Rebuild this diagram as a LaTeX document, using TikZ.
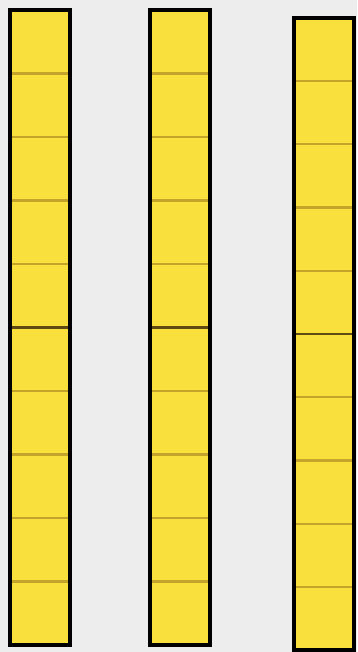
\documentclass[tikz,border=0pt]{standalone}
\usepackage{tikz}
\definecolor{paperbg}{HTML}{EDEDED}
\definecolor{rodyellow}{HTML}{FAE03C}
\definecolor{unitline}{HTML}{C4A42A}
\definecolor{fiveline}{HTML}{5E4C12}

\begin{document}
\begin{tikzpicture}[x=1pt,y=-1pt]
\fill[paperbg] (0,0) rectangle (357,652);
\useasboundingbox (0,0) rectangle (357,652);
% two rods of ten, left and middle
\foreach \xl in {10,150}{
  \fill[rodyellow] (\xl,10) rectangle ++(60,635);
  \foreach \k in {1,2,3,4,6,7,8,9}
    \draw[unitline,line width=2.2pt] (\xl,10+63.5*\k) -- ++(60,0);
  \draw[fiveline,line width=2.6pt] (\xl,10+63.5*5) -- ++(60,0);
  \draw[line width=3.2pt] (\xl,10) rectangle ++(60,635);
}
% third rod, a little lower
\fill[rodyellow] (294,18) rectangle ++(60,632);
\foreach \k in {1,2,3,4,6,7,8,9}
  \draw[unitline,line width=2.2pt] (294,18+63.2*\k) -- ++(60,0);
\draw[fiveline,line width=2.6pt] (294,18+63.2*5) -- ++(60,0);
\draw[line width=3.2pt] (294,18) rectangle ++(60,632);
\end{tikzpicture}
\end{document}
